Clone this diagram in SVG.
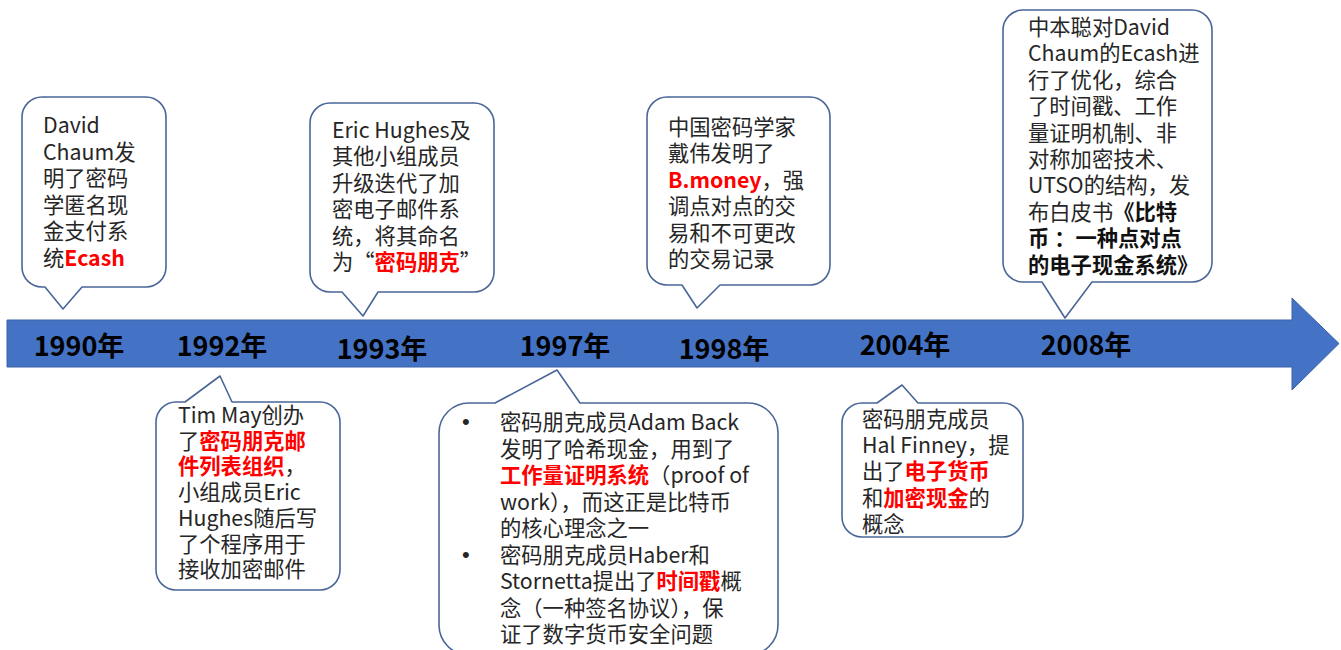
<svg xmlns="http://www.w3.org/2000/svg" width="1341" height="650" viewBox="0 0 1341 650">
<style>
.bub{fill:#ffffff;stroke:#4a6698;stroke-width:1.6;stroke-linejoin:round}
.t{font-family:"Noto Sans CJK SC","Microsoft YaHei",sans-serif;font-size:21.3px;fill:#262626}
.r{fill:#ff0000;font-weight:bold}
.b{fill:#111111;font-weight:bold}
.bul{font-family:"Liberation Sans",sans-serif;font-size:22px;fill:#262626}
.yr{font-family:"Noto Sans CJK SC","Liberation Sans",sans-serif;font-size:27px;font-weight:bold;fill:#000000;text-anchor:middle}
</style>
<rect width="1341" height="650" fill="#ffffff"/>
<g id="connectors">
<path id="timeline-arrow" d="M7,320 H1292 V298 L1339,343.5 L1292,390 V367 H7 Z" fill="#4472c4" stroke="#3a62a8" stroke-width="1"/>
</g>
<g id="years">
<text class="yr" x="79" y="356">1990年</text>
<text class="yr" x="222" y="356">1992年</text>
<text class="yr" x="382" y="359">1993年</text>
<text class="yr" x="565" y="356">1997年</text>
<text class="yr" x="724" y="359">1998年</text>
<text class="yr" x="905" y="355">2004年</text>
<text class="yr" x="1086" y="355">2008年</text>
</g>
<g id="n1990">
<path class="bub" d="M42,97 H146 A20,20 0 0 1 166,117 V267 A20,20 0 0 1 146,287 H82 L63,309 L45,287 H42 A20,20 0 0 1 22,267 V117 A20,20 0 0 1 42,97 Z"/>
<text class="t" x="43" y="133">David</text>
<text class="t" x="43" y="159.6">Chaum发</text>
<text class="t" x="43" y="186.2">明了密码</text>
<text class="t" x="43" y="212.8">学匿名现</text>
<text class="t" x="43" y="239.4">金支付系</text>
<text class="t" x="43" y="266">统<tspan class="r">Ecash</tspan></text>
</g>
<g id="n1993">
<path class="bub" d="M330,103 H474 A20,20 0 0 1 494,123 V272 A20,20 0 0 1 474,292 H378 L363,316 L342,292 H330 A20,20 0 0 1 310,272 V123 A20,20 0 0 1 330,103 Z"/>
<text class="t" x="332" y="138">Eric Hughes及</text>
<text class="t" x="332" y="164.4">其他小组成员</text>
<text class="t" x="332" y="190.8">升级迭代了加</text>
<text class="t" x="332" y="217.2">密电子邮件系</text>
<text class="t" x="332" y="243.6">统，将其命名</text>
<text class="t" x="332" y="270">为“<tspan class="r">密码朋克</tspan>”</text>
</g>
<g id="n1998">
<path class="bub" d="M667,97 H810 A20,20 0 0 1 830,117 V265 A20,20 0 0 1 810,285 H720 L697,308 L682,285 H667 A20,20 0 0 1 647,265 V117 A20,20 0 0 1 667,97 Z"/>
<text class="t" x="668" y="135">中国密码学家</text>
<text class="t" x="668" y="161.4">戴伟发明了</text>
<text class="t" x="668" y="187.8"><tspan class="r">B.money</tspan>，强</text>
<text class="t" x="668" y="214.2">调点对点的交</text>
<text class="t" x="668" y="240.6">易和不可更改</text>
<text class="t" x="668" y="267">的交易记录</text>
</g>
<g id="n2008">
<path class="bub" d="M1023,10 H1192 A20,20 0 0 1 1212,30 V262 A20,20 0 0 1 1192,282 H1092 L1065,318 L1042,282 H1023 A20,20 0 0 1 1003,262 V30 A20,20 0 0 1 1023,10 Z"/>
<text class="t" x="1028" y="35">中本聪对David</text>
<text class="t" x="1028" y="61.4">Chaum的Ecash进</text>
<text class="t" x="1028" y="87.8">行了优化，综合</text>
<text class="t" x="1028" y="114.2">了时间戳、工作</text>
<text class="t" x="1028" y="140.6">量证明机制、非</text>
<text class="t" x="1028" y="167">对称加密技术、</text>
<text class="t" x="1028" y="193.4">UTSO的结构，发</text>
<text class="t" x="1028" y="219.8">布白皮书<tspan class="b">《比特</tspan></text>
<text class="t b" x="1028" y="246.2">币 ：一种点对点</text>
<text class="t b" x="1028" y="272.6">的电子现金系统》</text>
</g>
<g id="n1992">
<path class="bub" d="M176,402 H185 L220,376 L232,402 H320 A20,20 0 0 1 340,422 V570 A20,20 0 0 1 320,590 H176 A20,20 0 0 1 156,570 V422 A20,20 0 0 1 176,402 Z"/>
<text class="t" x="178" y="423">Tim May创办</text>
<text class="t" x="178" y="448.7">了<tspan class="r">密码朋克邮</tspan></text>
<text class="t" x="178" y="474.4"><tspan class="r">件列表组织</tspan>，</text>
<text class="t" x="178" y="500.1">小组成员Eric</text>
<text class="t" x="178" y="525.8">Hughes随后写</text>
<text class="t" x="178" y="551.5">了个程序用于</text>
<text class="t" x="178" y="577.2">接收加密邮件</text>
</g>
<g id="n1997">
<path class="bub" d="M469,403 H495 L557,370 L580,403 H748 A30,30 0 0 1 778,433 V625 A30,30 0 0 1 748,655 H469 A30,30 0 0 1 439,625 V433 A30,30 0 0 1 469,403 Z"/>
<text class="bul" x="462" y="429">•</text>
<text class="t" x="500" y="430">密码朋克成员Adam Back</text>
<text class="t" x="500" y="456.5">发明了哈希现金，用到了</text>
<text class="t" x="500" y="483"><tspan class="r">工作量证明系统</tspan>（proof of</text>
<text class="t" x="500" y="509.5">work），而这正是比特币</text>
<text class="t" x="500" y="536">的核心理念之一</text>
<text class="bul" x="462" y="561.5">•</text>
<text class="t" x="500" y="562.5">密码朋克成员Haber和</text>
<text class="t" x="500" y="589">Stornetta提出了<tspan class="r">时间戳</tspan>概</text>
<text class="t" x="500" y="615.5">念（一种签名协议），保</text>
<text class="t" x="500" y="642">证了数字货币安全问题</text>
</g>
<g id="n2004">
<path class="bub" d="M862,403 H877 L902,385 L918,403 H1003 A20,20 0 0 1 1023,423 V517 A20,20 0 0 1 1003,537 H862 A20,20 0 0 1 842,517 V423 A20,20 0 0 1 862,403 Z"/>
<text class="t" x="862" y="427">密码朋克成员</text>
<text class="t" x="862" y="453.2">Hal Finney，提</text>
<text class="t" x="862" y="479.4">出了<tspan class="r">电子货币</tspan></text>
<text class="t" x="862" y="505.6">和<tspan class="r">加密现金</tspan>的</text>
<text class="t" x="862" y="531.8">概念</text>
</g>
</svg>
